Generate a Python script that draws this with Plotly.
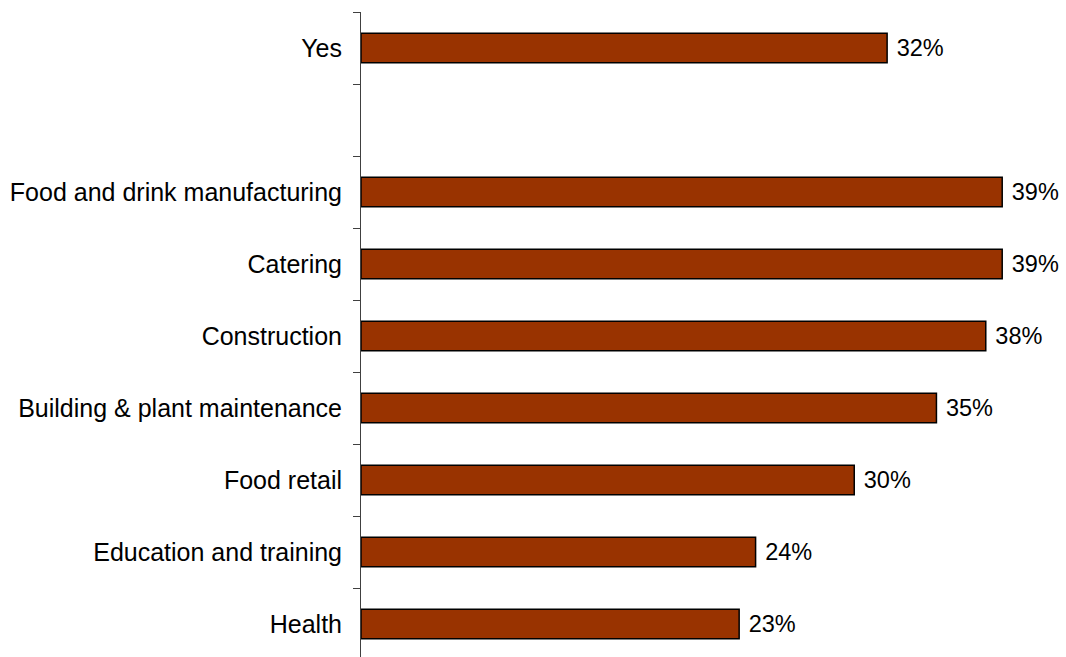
import plotly.graph_objects as go

categories = ["Yes", " ", "Food and drink manufacturing", "Catering", "Construction",
              "Building & plant maintenance", "Food retail", "Education and training", "Health"]
values = [32, None, 39, 39, 38, 35, 30, 24, 23]
labels = [" 32%", "", " 39%", " 39%", " 38%", " 35%", " 30%", " 24%", " 23%"]

fig = go.Figure(go.Bar(
    x=values, y=categories, orientation="h",
    marker=dict(color="#993300", line=dict(color="black", width=1.5)),
    text=labels, textposition="outside", cliponaxis=False,
    textfont=dict(family="Liberation Sans, Arial", size=23.5, color="black"),
))

fig.update_layout(
    width=1066, height=660,
    margin=dict(l=361, r=0, t=12, b=0),
    plot_bgcolor="white", paper_bgcolor="white",
    bargap=0.59, showlegend=False,
    font=dict(family="Liberation Sans, Arial", size=20, color="black"),
)
fig.update_xaxes(range=[0, 42.88], visible=False, showgrid=False, zeroline=False,
                 automargin=False)
fig.update_yaxes(
    categoryorder="array", categoryarray=categories, automargin=False,
    range=[8.5, -0.5], tickson="boundaries", ticks="outside", ticklen=7,
    tickcolor="#404040", showline=True, linecolor="#404040", linewidth=1,
    showgrid=False, zeroline=False, ticklabelstandoff=13,
    tickfont=dict(family="Liberation Sans, Arial", size=25, color="black"),
)

fig.write_html("out.html", config={"displayModeBar": False},
               post_script="document.body.style.margin='0';document.body.style.overflow='hidden';")
